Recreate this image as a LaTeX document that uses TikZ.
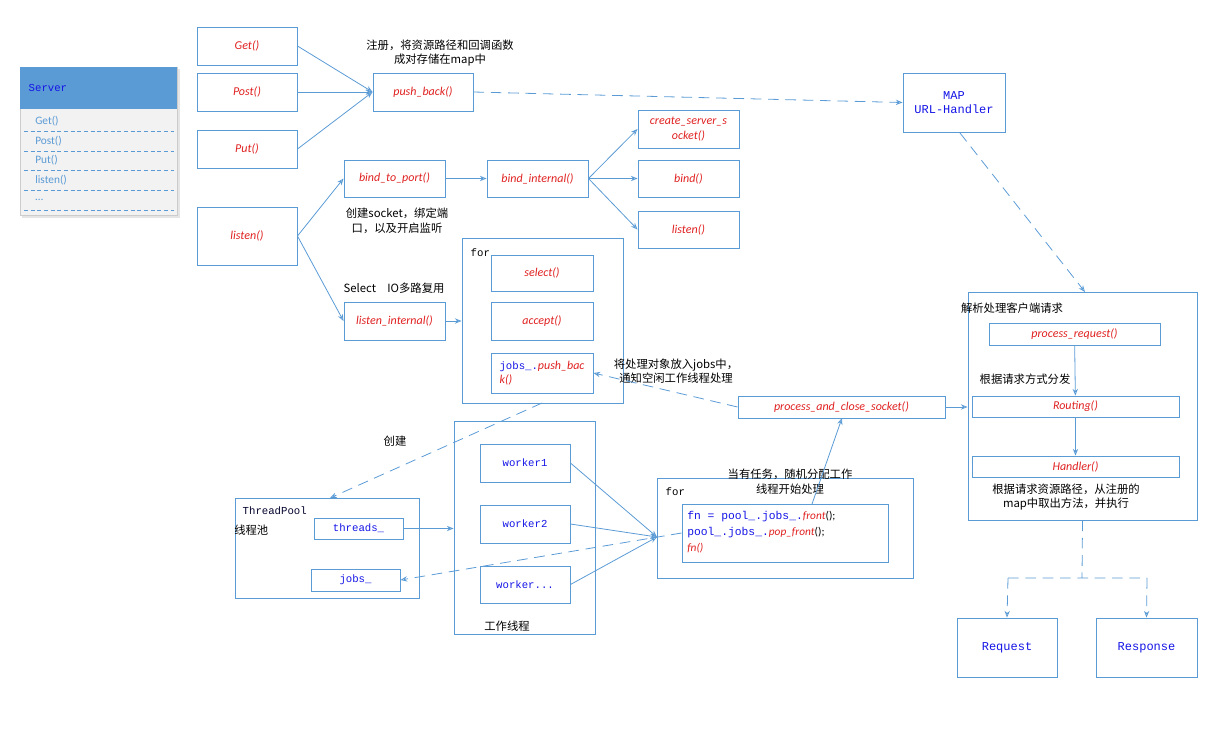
\documentclass[tikz,border=0pt]{standalone}
\usepackage{fontspec}
\setmainfont{Carlito}
\setmonofont{Liberation Mono}
\newfontfamily\cjk{Noto Sans CJK SC}
\usetikzlibrary{arrows.meta}
\definecolor{ln}{RGB}{91,155,213}
\definecolor{rd}{RGB}{224,32,32}
\definecolor{bl}{RGB}{20,20,230}
\tikzset{
 box/.style={draw=ln,line width=0.7pt,inner sep=1pt,align=center,font=\fontsize{9}{11}\selectfont},
 cd/.style={text=bl,font=\fontsize{8}{10}\selectfont\ttfamily},
 lb/.style={font=\fontsize{8.5}{11}\selectfont\cjk,align=center,inner sep=0pt},
 ar/.style={draw=ln,line width=0.6pt,-{Stealth[length=5pt,width=4pt,open]}},
 da/.style={ar,dash pattern=on 8pt off 5pt},
}
\newcommand{\bx}[7][]{\node[box,minimum width={(#5-#3)*0.75pt},minimum height={(#6-#4)*0.75pt},#1] (#2) at ({(#3+#5)/2},{(#4+#6)/2}) {#7};}
\begin{document}
\begin{tikzpicture}[x=0.75pt,y=-0.75pt]
\useasboundingbox (0,0) rectangle (1220,733);
% Server panel
\fill[black!10] (22,69) rectangle (180,218);
\fill[gray!10] (20,67) rectangle (177,215);
\draw[gray!40] (20,67) rectangle (177,215);
\fill[ln] (20,67) rectangle (177,109);
\node[cd,anchor=west] (srv) at (24,88) {Server};
\foreach \t/\y [count=\i] in {{Get()}/121,{Post()}/141,{Put()}/160,{listen()}/180,{\ldots}/200}{
 \node[anchor=west,text=ln,font=\fontsize{8.5}{10}\selectfont,inner sep=0pt] (it\i) at (35,\y) {\t};
 \draw[ln,densely dashed] (24,\y+10) -- (174,\y+10);}
% left column
\bx{get}{197}{27}{297}{65}{\textcolor{rd}{\itshape Get()}}
\bx{post}{197}{73}{297}{111}{\textcolor{rd}{\itshape Post()}}
\bx{put}{197}{130}{297}{168}{\textcolor{rd}{\itshape Put()}}
\bx{lis}{197}{207}{297}{265}{\textcolor{rd}{\itshape listen()}}
\bx{pb}{373}{73}{473}{111}{\textcolor{rd}{\itshape push\_back()}}
\node[lb] (t1) at (440,53) {注册，将资源路径和回调函数\\成对存储在map中};
\bx{map}{903}{73}{1005}{132}{\ttfamily\small\textcolor{bl}{MAP}\\\ttfamily\small\textcolor{bl}{URL-Handler}}
\bx{btp}{344}{160}{445}{197}{\textcolor{rd}{\itshape bind\_to\_port()}}
\bx{bi}{487}{160}{588}{197}{\textcolor{rd}{\itshape bind\_internal()}}
\bx{css}{638}{110}{739}{148}{\textcolor{rd}{\itshape create\_server\_s}\\\textcolor{rd}{\itshape ocket()}}
\bx{bind}{638}{160}{739}{197}{\textcolor{rd}{\itshape bind()}}
\bx{lis2}{638}{211}{739}{248}{\textcolor{rd}{\itshape listen()}}
\node[lb] (t2) at (397,221) {创建socket，绑定端\\口，以及开启监听};
\node[lb] (t3) at (394,288) {Select\quad IO多路复用};
\bx{li}{344}{302}{445}{340}{\textcolor{rd}{\itshape listen\_internal()}}
\bx{for1}{462}{238}{623}{403}{}
\node[cd,text=black,anchor=west] (f1) at (466,253) {for};
\bx{sel}{491}{255}{593}{291}{\textcolor{rd}{\itshape select()}}
\bx{acc}{491}{302}{593}{340}{\textcolor{rd}{\itshape accept()}}
\bx[align=left]{jpb}{491}{353}{593}{393}{\textcolor{bl}{\ttfamily\footnotesize jobs\_.}\textcolor{rd}{\itshape push\_bac}\\\textcolor{rd}{\itshape k()}}
\node[lb] (t4) at (676,371) {将处理对象放入jobs中，\\通知空闲工作线程处理};
\bx{pcs}{738}{396}{945}{418}{\textcolor{rd}{\itshape process\_and\_close\_socket()}}
% right
\bx{rb}{968}{292}{1197}{520}{}
\node[lb] (t5) at (1012,308) {解析处理客户端请求};
\bx{pr}{989}{323}{1160}{345}{\textcolor{rd}{\itshape process\_request()}}
\node[lb] (t6) at (1025,379) {根据请求方式分发};
\bx{rt}{972}{396}{1179}{417}{\textcolor{rd}{\itshape Routing()}}
\bx{hd}{972}{456}{1179}{477}{\textcolor{rd}{\itshape Handler()}}
\node[lb] (t7) at (1066,497) {根据请求资源路径，从注册的\\map中取出方法，并执行};
\bx{req}{957}{618}{1057}{677}{\ttfamily\small\textcolor{bl}{Request}}
\bx{res}{1096}{618}{1197}{677}{\ttfamily\small\textcolor{bl}{Response}}
% thread pool
\node[lb] (t8) at (395,441) {创建};
\bx{tp}{235}{498}{419}{598}{}
\node[cd,anchor=west,text=black!80!bl] (tpn) at (238,511) {ThreadPool};
\node[lb,anchor=west] (tpc) at (234,530) {线程池};
\bx{thr}{314}{518}{403}{539}{\ttfamily\footnotesize\textcolor{bl}{threads\_}}
\bx{jb}{311}{569}{400}{591}{\ttfamily\footnotesize\textcolor{bl}{jobs\_}}
\bx{wc}{454}{421}{595}{634}{}
\bx{w1}{480}{444}{570}{482}{\ttfamily\footnotesize\textcolor{bl}{worker1}}
\bx{w2}{480}{505}{570}{543}{\ttfamily\footnotesize\textcolor{bl}{worker2}}
\bx{w3}{480}{566}{570}{603}{\ttfamily\footnotesize\textcolor{bl}{worker...}}
\node[lb] (t9) at (507,626) {工作线程};
\bx{for2}{657}{478}{913}{578}{}
\node[cd,text=black,anchor=west] (f2) at (661,492) {for};
\bx{inn}{682}{504}{888}{562}{}
\node[anchor=north west,align=left,inner sep=0pt,font=\fontsize{8.5}{12}\selectfont] (code) at (687,511) {\textcolor{bl}{\ttfamily fn = pool\_.jobs\_.}\textcolor{rd}{\itshape front}();\\\textcolor{bl}{\ttfamily pool\_.jobs\_.}\textcolor{rd}{\itshape pop\_front}();\\\textcolor{rd}{\itshape fn()}};
\node[lb] (t10) at (790,482) {当有任务，随机分配工作\\线程开始处理};
% connectors
\foreach \s in {get,post,put} \draw[ar] (\s.east) -- (pb.west);
\draw[da] (pb.east) -- (map.west);
\coordinate (mapb) at (960,133);
\coordinate (rbt) at (1085,292);
\draw[da] (mapb) -- (rbt);
\draw[ar] (lis.east) -- (btp.west);
\draw[ar] (lis.east) -- (li.west);
\draw[ar] (btp) -- (bi);
\foreach \s in {css,bind,lis2} \draw[ar] (bi.east) -- (\s.west);
\draw[ar] (li.east) -- (li.east -| for1.west);
\draw[ar] (pcs.east) -- (pcs.east -| rb.west);
\draw[da] (pcs.west) -- (jpb.east);
\coordinate (f1b) at (542,403);
\coordinate (tpt) at (330,498);
\draw[da] (f1b) -- (tpt);
\draw[ar] (pr) -- (rt);
\draw[ar] (rt) -- (hd);
\draw[ar] (thr.east) -- (thr.east -| wc.west);
\coordinate (fin) at (657,537);
\foreach \s in {w1,w2,w3} \draw[ar] (\s.east) -- (fin);
\coordinate (innt) at (812,504);
\coordinate (pcsb) at (842,418);
\draw[ar] (innt) -- (pcsb);
\draw[da] (inn.west) -- (jb.east);
\coordinate (sp) at (1082,578);
\coordinate (spl) at (1008,578);
\coordinate (spr) at (1147,578);
\draw[ln,line width=0.6pt,dash pattern=on 8pt off 5pt] (rb.south) -- (sp) (spl) -- (spr);
\draw[da] (spl) -- (req.north);
\draw[da] (spr) -- (res.north);
\end{tikzpicture}
\end{document}
